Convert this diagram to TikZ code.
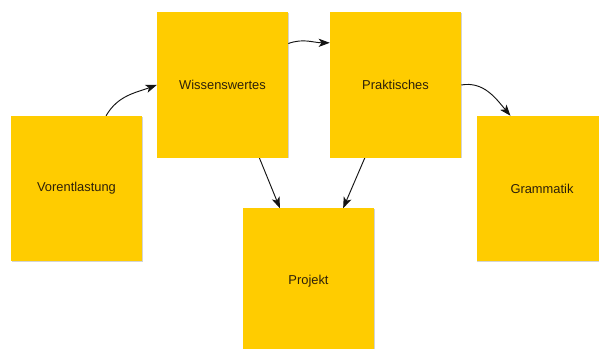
\documentclass[tikz,border=0pt]{standalone}
\usepackage{fontspec}
\setmainfont{Liberation Sans}
\usepackage{tikz}
\definecolor{boxyellow}{RGB}{255,204,0}
\definecolor{boxtext}{RGB}{45,32,10}
\definecolor{arrowgrey}{RGB}{20,20,20}
\usetikzlibrary{arrows.meta}
\usetikzlibrary{calc}
\usetikzlibrary{shadows}
\pgfdeclarelayer{edgelayer}
\pgfdeclarelayer{nodelayer}
\pgfsetlayers{edgelayer,nodelayer,main}
\tikzstyle{topic}=[rectangle,fill=boxyellow,text=boxtext,minimum width=3.93cm,minimum height=4.35cm,inner sep=0pt,font=\fontsize{11}{13}\selectfont,drop shadow={shadow xshift=0.6pt,shadow yshift=-0.6pt,opacity=0.35}]
\tikzstyle{link}=[-{Stealth[length=9.5pt,width=7pt,inset=2.5pt]},draw=arrowgrey,line width=0.8pt]

\begin{document}
\begin{tikzpicture}[x=0.03cm,y=-0.03cm]
        \useasboundingbox (0,0) rectangle (599,349);

        \begin{pgfonlayer}{nodelayer}
            \node [style = topic] (vor) at (76.5, 188.5) {Vorentlastung};
            \node [style = topic] (wis) at (222.5, 85) {Wissenswertes};
            \node [style = topic] (pra) at (395.5, 85) {Praktisches};
            \node [style = topic] (gra) at (542, 188.5) {Grammatik};
            \node [style = topic] (pro) at (308.5, 281) {Projekt};
        \end{pgfonlayer}

        \begin{pgfonlayer}{edgelayer}
            \draw [style = link] ($(vor.north)!0.45!(vor.north east)$) to [out=60, in=200] (wis.west);
            \draw [style = link] ($(wis.north east)!0.43!(wis.east)$) to [out=20, in=180] ($(pra.north west)!0.42!(pra.west)$);
            \draw [style = link] (pra.east) to [out=10, in=130] ($(gra.north)!0.48!(gra.north west)$);
            \draw [style = link] ($(wis.south)!0.56!(wis.south east)$) to ($(pro.north)!0.435!(pro.north west)$);
            \draw [style = link] ($(pra.south)!0.466!(pra.south west)$) to ($(pro.north)!0.527!(pro.north east)$);
        \end{pgfonlayer}
    \end{tikzpicture}
\end{document}
